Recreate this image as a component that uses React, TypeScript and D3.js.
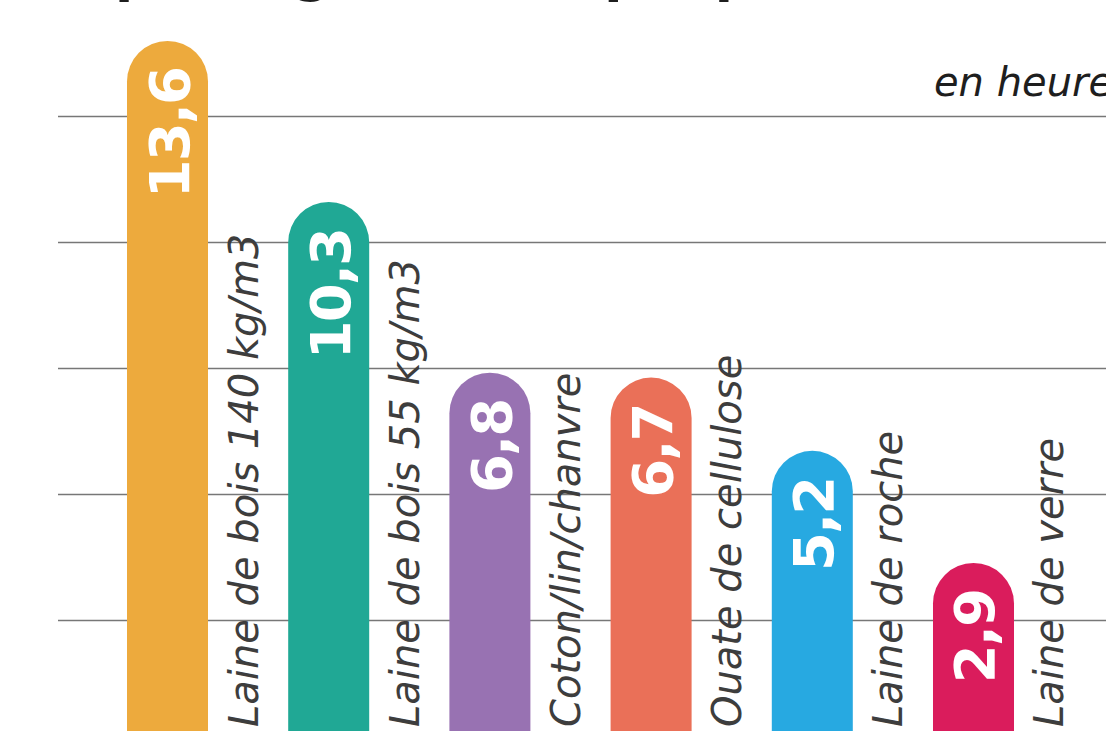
import React from "react";
import * as d3 from "d3";

const categories = [
  "Laine de bois 140 kg/m3",
  "Laine de bois 55 kg/m3",
  "Coton/lin/chanvre",
  "Ouate de cellulose",
  "Laine de roche",
  "Laine de verre",
];
const values = [13.6, 10.3, 6.8, 6.7, 5.2, 2.9];
const valueLabels = ["13,6", "10,3", "6,8", "6,7", "5,2", "2,9"];
const colors = ["#EDAA3D", "#20A895", "#9872B2", "#EA7058", "#27A9E1", "#DA1C5C"];
const gridLevels = [1.73, 4.31, 6.89, 9.48, 12.06];
const unitLabel = "en heures";
const title = "Déphasage thermique par isolant";

const W = 1106;
const H = 731;

export default function App() {
  const x = d3
    .scaleBand<string>()
    .domain(categories)
    .range([127, 1014])
    .paddingInner(0.4975)
    .paddingOuter(0);
  const y = d3.scaleLinear().domain([0, 13.6]).range([704.5, 41]);
  const bw = x.bandwidth();
  const r = bw / 2;
  const bottom = H + 20;

  const barPath = (v: number, x0: number) => {
    const top = y(v);
    const p = d3.path();
    p.moveTo(x0, bottom);
    p.lineTo(x0, top + r);
    p.arc(x0 + r, top + r, r, Math.PI, 0, false);
    p.lineTo(x0 + bw, bottom);
    p.closePath();
    return p.toString();
  };

  return (
    <svg
      width={W}
      height={H}
      style={{ position: "absolute", left: 0, top: 0, display: "block" }}
    >
      <rect width={W} height={H} fill="#ffffff" />
      <text
        x={35}
        y={-9}
        fontFamily="DejaVu Sans"
        fontWeight="bold"
        fontSize={53}
        fill="#1e1e1e"
      >
        {title}
      </text>
      <text
        x={934}
        y={96}
        fontFamily="DejaVu Sans"
        fontStyle="italic"
        fontSize={40}
        fill="#1e1e1e"
      >
        {unitLabel}
      </text>
      {gridLevels.map((g, i) => (
        <line
          key={i}
          x1={58}
          x2={W}
          y1={Math.round(y(g)) + 0.5}
          y2={Math.round(y(g)) + 0.5}
          stroke="#777777"
          strokeWidth={1.5}
        />
      ))}
      {categories.map((c, i) => {
        const x0 = x(c) as number;
        const cx = x0 + r;
        const top = y(values[i]);
        return (
          <g key={c}>
            <path d={barPath(values[i], x0)} fill={colors[i]} />
            <text
              transform={`translate(${cx + 21},${top + 27}) rotate(-90)`}
              textAnchor="end"
              fontFamily="DejaVu Sans"
              fontWeight="bold"
              fontSize={56}
              letterSpacing={-2}
              fill="#ffffff"
            >
              {valueLabels[i]}
            </text>
            <text
              transform={`translate(${cx + 90},727) rotate(-90)`}
              textAnchor="start"
              fontFamily="DejaVu Sans"
              fontStyle="italic"
              fontSize={40}
              fill="#3d3d3d"
            >
              {c}
            </text>
          </g>
        );
      })}
    </svg>
  );
}
